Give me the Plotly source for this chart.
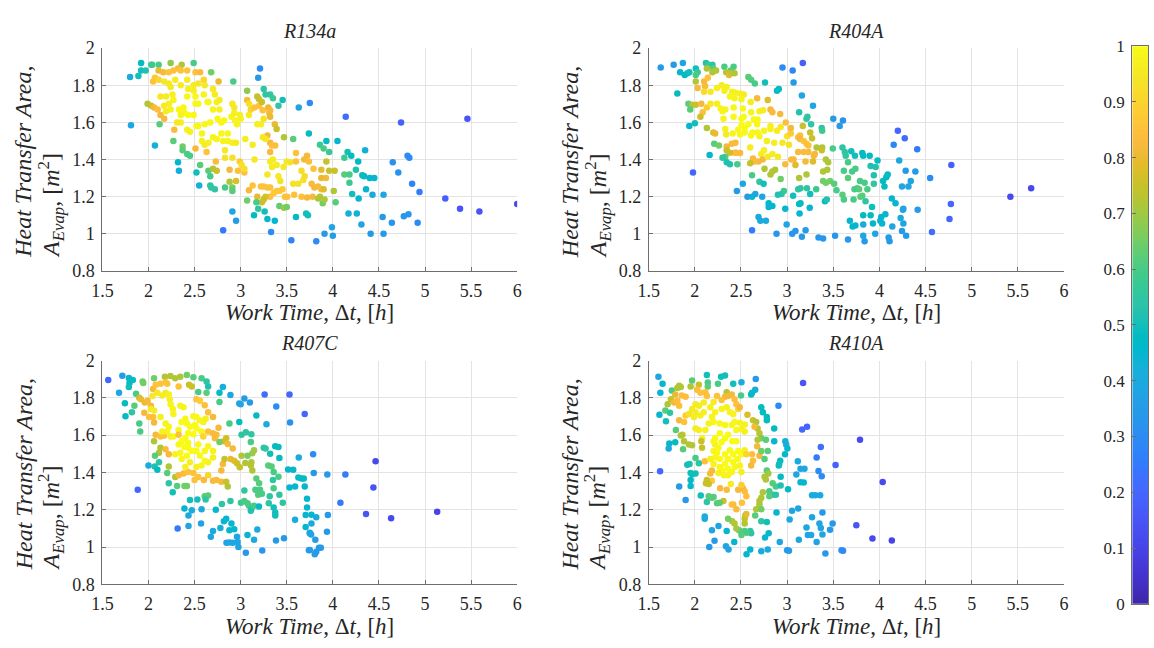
import plotly.graph_objects as go
import numpy as np

# ---------------- data: work time [h], evaporator area [m^2], colour score ----------------
r134a_dt = [
    1.80, 1.89, 1.92, 1.92, 1.97, 2.03, 2.04, 2.11, 2.24, 2.36,
    2.32, 2.49, 2.11, 2.16, 2.22, 2.27, 2.35, 2.42, 2.51, 2.56,
    2.68, 2.76, 2.92, 3.21, 3.19, 2.05, 2.07, 2.11, 2.17, 2.22,
    2.24, 2.29, 2.35, 2.42, 2.43, 2.49, 2.49, 2.54, 2.60, 2.61,
    2.70, 2.72, 2.65, 2.74, 2.77, 2.13, 2.19, 2.26, 2.27, 2.22,
    2.17, 2.19, 2.24, 2.33, 2.38, 2.39, 2.35, 2.43, 2.49, 2.51,
    2.54, 2.42, 2.51, 2.60, 2.64, 2.70, 2.77, 1.99, 2.03, 2.06,
    2.10, 2.13, 2.17, 2.12, 1.81, 2.28, 2.35, 2.31, 2.42, 2.45,
    2.52, 2.54, 2.61, 2.67, 2.75, 2.79, 2.82, 2.90, 2.93, 2.99,
    3.00, 2.96, 2.94, 2.91, 2.93, 2.58, 2.58, 2.61, 2.65, 2.70,
    2.74, 2.79, 2.86, 2.81, 2.86, 2.91, 2.95, 2.83, 2.83, 2.91,
    2.51, 2.63, 2.73, 2.27, 2.37, 2.37, 2.42, 2.45, 2.32, 2.33,
    2.56, 2.52, 2.55, 2.65, 2.67, 2.70, 2.74, 2.67, 2.68, 2.72,
    2.83, 2.88, 2.91, 2.91, 2.95, 2.88, 2.97, 3.04, 2.99, 3.01,
    3.04, 3.05, 3.13, 3.15, 3.22, 3.18, 3.09, 3.11, 3.15, 3.20,
    3.24, 3.25, 3.31, 3.07, 3.09, 3.18, 3.20, 3.23, 3.07, 3.25,
    3.27, 3.32, 3.35, 3.41, 3.455, 3.30, 3.32, 3.32, 3.37, 3.39,
    3.29, 3.32, 3.34, 3.375, 3.32, 3.24, 3.27, 3.32, 3.35, 3.39,
    3.34, 3.29, 3.41, 3.43, 3.50, 3.535, 3.465, 3.60, 3.57, 3.47,
    3.60, 3.57, 3.625, 3.66, 3.68, 3.695, 3.72, 3.69, 3.74, 3.66,
    3.58, 3.48, 3.505, 3.42, 3.455, 3.39, 3.36, 3.32, 3.27, 3.25,
    3.23, 3.18, 3.13, 3.22, 3.25, 3.29, 3.32, 3.09, 3.07, 3.17,
    3.19, 3.26, 3.145, 3.29, 3.37, 3.42, 3.47, 3.50, 3.60, 3.71,
    3.73, 3.72, 2.91, 2.95, 2.81, 3.33, 3.55, 2.07, 3.63, 3.75,
    3.74, 4.14, 4.74, 5.46, 3.86, 3.90, 3.93, 3.96, 4.05, 4.16,
    4.20, 4.125, 4.275, 4.35, 3.93, 3.875, 3.79, 3.925, 3.875, 3.96,
    4.02, 3.77, 3.80, 3.84, 3.875, 3.90, 3.78, 3.84, 3.86, 3.89,
    3.91, 4.01, 4.03, 4.125, 4.18, 4.18, 4.25, 4.32, 4.34, 4.40,
    4.45, 4.36, 4.21, 4.28, 4.43, 4.55, 4.65, 4.71, 4.81, 4.83,
    4.86, 4.94, 5.22, 5.38, 5.59, 6.00, 4.17, 4.26, 4.31, 4.41,
    4.55, 4.54, 4.64, 4.77, 4.82, 4.92, 3.99, 4.00, 3.91, 3.82,
]
r134a_area = [
    1.845, 1.85, 1.92, 1.88, 1.88, 1.91, 1.91, 1.91, 1.92, 1.91,
    1.89, 1.92, 1.88, 1.87, 1.87, 1.88, 1.88, 1.88, 1.87, 1.87,
    1.87, 1.82, 1.82, 1.89, 1.84, 1.82, 1.84, 1.83, 1.82, 1.81,
    1.79, 1.83, 1.80, 1.83, 1.78, 1.77, 1.80, 1.81, 1.83, 1.80,
    1.78, 1.75, 1.71, 1.71, 1.72, 1.74, 1.74, 1.75, 1.72, 1.70,
    1.69, 1.66, 1.67, 1.67, 1.68, 1.65, 1.64, 1.64, 1.64, 1.70,
    1.70, 1.74, 1.74, 1.75, 1.71, 1.67, 1.67, 1.70, 1.69, 1.68,
    1.67, 1.64, 1.62, 1.59, 1.585, 1.56, 1.60, 1.60, 1.56, 1.55,
    1.58, 1.58, 1.59, 1.60, 1.62, 1.60, 1.61, 1.63, 1.65, 1.64,
    1.62, 1.59, 1.61, 1.70, 1.68, 1.54, 1.50, 1.48, 1.49, 1.52,
    1.51, 1.54, 1.54, 1.50, 1.50, 1.49, 1.49, 1.45, 1.41, 1.41,
    1.46, 1.44, 1.39, 1.50, 1.47, 1.45, 1.43, 1.42, 1.385, 1.34,
    1.37, 1.33, 1.26, 1.34, 1.31, 1.35, 1.34, 1.26, 1.25, 1.24,
    1.25, 1.28, 1.25, 1.23, 1.285, 1.345, 1.34, 1.33, 1.39, 1.37,
    1.35, 1.51, 1.48, 1.40, 1.59, 1.59, 1.64, 1.67, 1.68, 1.69,
    1.665, 1.62, 1.65, 1.72, 1.70, 1.74, 1.725, 1.71, 1.77, 1.78,
    1.75, 1.75, 1.73, 1.69, 1.72, 1.68, 1.665, 1.63, 1.59, 1.565,
    1.53, 1.49, 1.475, 1.475, 1.44, 1.52, 1.51, 1.39, 1.40, 1.37,
    1.36, 1.32, 1.31, 1.285, 1.39, 1.385, 1.36, 1.435, 1.51, 1.52,
    1.39, 1.27, 1.27, 1.34, 1.29, 1.31, 1.42, 1.40, 1.39, 1.20,
    1.21, 1.20, 1.20, 1.23, 1.24, 1.23, 1.22, 1.20, 1.20, 1.185,
    1.17, 1.20, 1.26, 1.255, 1.255, 1.25, 1.25, 1.235, 1.18, 1.17,
    1.135, 1.12, 1.10, 1.08, 1.07, 1.15, 1.14, 1.145, 1.09, 1.11,
    1.10, 1.195, 1.12, 1.07, 1.02, 1.01, 0.965, 1.475, 1.68, 1.705,
    1.54, 1.63, 1.60, 1.62, 1.48, 1.46, 1.50, 1.44, 1.50, 1.44,
    1.42, 1.41, 1.39, 1.45, 1.39, 1.345, 1.35, 1.30, 1.30, 1.34,
    1.34, 1.27, 1.25, 1.255, 1.24, 1.24, 1.20, 1.19, 1.20, 1.165,
    1.185, 1.23, 1.17, 1.32, 1.32, 1.275, 1.345, 1.315, 1.31, 1.30,
    1.30, 1.24, 1.215, 1.19, 1.21, 1.21, 1.385, 1.33, 1.42, 1.41,
    1.27, 1.225, 1.19, 1.135, 1.12, 1.16, 1.11, 1.11, 1.05, 1.00,
    1.00, 1.09, 1.06, 1.095, 1.105, 1.06, 1.035, 0.99, 1.00, 0.96,
]
r134a_score = [
    0.40, 0.50, 0.48, 0.50, 0.52, 0.58, 0.58, 0.60, 0.68, 0.72,
    0.82, 0.60, 0.80, 0.82, 0.85, 0.85, 0.86, 0.86, 0.85, 0.83,
    0.65, 0.80, 0.60, 0.30, 0.35, 0.85, 0.87, 0.90, 0.95, 0.95,
    0.95, 0.96, 0.96, 0.96, 0.97, 0.97, 0.96, 0.95, 0.90, 0.95,
    0.95, 0.96, 0.98, 0.97, 0.96, 0.95, 0.96, 0.97, 0.98, 0.97,
    0.96, 0.96, 0.97, 0.99, 0.99, 0.99, 0.98, 1.00, 0.99, 0.99,
    0.99, 0.99, 0.99, 0.98, 0.99, 0.98, 0.97, 0.72, 0.75, 0.82,
    0.84, 0.82, 0.82, 0.62, 0.38, 0.83, 0.97, 0.95, 0.97, 0.97,
    0.99, 0.99, 0.99, 0.99, 0.99, 0.99, 0.99, 0.98, 0.97, 0.97,
    0.97, 0.98, 0.98, 0.95, 0.95, 0.98, 0.97, 0.96, 0.97, 0.98,
    0.98, 0.99, 0.99, 0.98, 0.98, 0.97, 0.96, 0.95, 0.94, 0.93,
    0.82, 0.85, 0.83, 0.62, 0.65, 0.62, 0.60, 0.60, 0.45, 0.42,
    0.62, 0.50, 0.42, 0.62, 0.60, 0.72, 0.75, 0.55, 0.55, 0.55,
    0.60, 0.72, 0.65, 0.62, 0.78, 0.82, 0.85, 0.85, 0.88, 0.93,
    0.93, 0.96, 0.96, 0.95, 0.97, 0.97, 0.96, 0.90, 0.85, 0.85,
    0.85, 0.94, 0.82, 0.83, 0.93, 0.74, 0.75, 0.75, 0.68, 0.55,
    0.55, 0.55, 0.58, 0.55, 0.50, 0.80, 0.82, 0.80, 0.80, 0.75,
    0.82, 0.82, 0.84, 0.84, 0.83, 0.95, 0.95, 0.96, 0.96, 0.96,
    0.96, 0.95, 0.95, 0.94, 0.95, 0.94, 0.95, 0.85, 0.62, 0.72,
    0.86, 0.93, 0.93, 0.92, 0.93, 0.92, 0.82, 0.82, 0.84, 0.85,
    0.85, 0.85, 0.85, 0.88, 0.87, 0.87, 0.87, 0.85, 0.78, 0.75,
    0.75, 0.80, 0.85, 0.85, 0.85, 0.85, 0.85, 0.82, 0.65, 0.60,
    0.55, 0.50, 0.48, 0.45, 0.45, 0.63, 0.70, 0.65, 0.48, 0.50,
    0.50, 0.82, 0.38, 0.35, 0.25, 0.30, 0.28, 0.42, 0.38, 0.30,
    0.48, 0.22, 0.18, 0.15, 0.58, 0.60, 0.48, 0.58, 0.45, 0.50,
    0.48, 0.58, 0.47, 0.43, 0.75, 0.80, 0.85, 0.82, 0.80, 0.75,
    0.75, 0.83, 0.82, 0.83, 0.83, 0.78, 0.82, 0.72, 0.72, 0.65,
    0.72, 0.72, 0.62, 0.62, 0.60, 0.58, 0.52, 0.48, 0.48, 0.45,
    0.45, 0.45, 0.50, 0.45, 0.40, 0.38, 0.32, 0.32, 0.30, 0.30,
    0.28, 0.25, 0.18, 0.15, 0.15, 0.12, 0.42, 0.42, 0.38, 0.35,
    0.35, 0.35, 0.33, 0.33, 0.33, 0.30, 0.38, 0.36, 0.35, 0.30,
]

r404a_dt = [
    1.63, 1.77, 1.87, 1.84, 1.89, 1.92, 1.94, 2.01, 2.03, 2.01,
    2.01, 2.12, 2.15, 2.19, 2.20, 2.13, 2.19, 2.23, 2.32, 2.42,
    2.39, 2.34, 2.37, 2.39, 2.43, 2.58, 2.61, 2.65, 2.76, 2.95,
    3.06, 3.17, 3.07, 2.89, 2.91, 1.81, 2.10, 2.14, 2.11, 2.03,
    2.10, 2.17, 2.24, 2.29, 2.345, 2.32, 2.405, 2.44, 2.49, 2.53,
    2.38, 2.43, 2.505, 2.605, 2.675, 2.79, 1.93, 1.97, 1.95, 2.01,
    2.07, 2.085, 2.06, 2.13, 2.17, 2.24, 2.28, 2.33, 2.30, 2.42,
    2.52, 2.31, 2.42, 2.505, 2.53, 2.61, 2.70, 2.74, 2.82, 2.84,
    2.925, 2.64, 2.68, 2.675, 2.58, 2.505, 2.54, 2.33, 2.34, 2.41,
    2.47, 2.49, 2.54, 2.61, 2.625, 2.68, 2.70, 2.75, 2.82, 2.82,
    2.89, 2.93, 2.78, 2.86, 2.95, 3.02, 3.00, 3.04, 2.985, 3.04,
    3.12, 3.14, 3.14, 3.17, 3.18, 3.21, 3.23, 3.27, 3.25, 3.12,
    3.18, 3.23, 3.30, 3.29, 3.20, 3.28, 3.07, 3.045, 3.09, 2.98,
    2.90, 2.84, 2.75, 2.72, 2.69, 2.735, 2.79, 2.63, 2.65, 2.60,
    2.60, 2.49, 2.45, 2.43, 2.44, 2.40, 2.345, 2.345, 2.38, 2.33,
    2.30, 2.345, 2.38, 2.46, 2.21, 2.26, 2.16, 2.13, 2.20, 2.22,
    1.94, 2.00, 1.98, 2.62, 2.70, 2.745, 2.755, 2.82, 2.84, 2.87,
    2.93, 3.13, 3.21, 3.12, 3.145, 3.215, 3.315, 3.25, 3.145, 3.13,
    3.135, 3.245, 3.065, 2.965, 2.94, 2.90, 2.62, 2.52, 2.455, 2.57,
    2.655, 2.73, 2.80, 2.80, 2.84, 2.98, 2.69, 2.71, 2.77, 2.995,
    2.62, 2.885, 3.055, 3.09, 3.20, 3.16, 3.34, 3.39, 3.52, 3.66,
    3.41, 3.43, 3.68, 3.71, 3.74, 3.16, 3.28, 3.13, 3.21, 3.22,
    3.26, 3.375, 3.38, 3.32, 3.38, 3.375, 3.42, 3.445, 3.39, 3.435,
    3.39, 3.42, 3.465, 3.51, 3.495, 3.50, 3.57, 3.605, 3.60, 3.625,
    3.635, 3.695, 3.735, 3.66, 3.615, 3.66, 3.74, 3.705, 3.535, 3.60,
    3.615, 3.72, 3.73, 3.76, 4.20, 4.275, 4.155, 4.41, 3.815, 3.825,
    3.895, 3.98, 4.215, 3.905, 3.96, 3.94, 4.09, 4.075, 4.04, 4.055,
    3.79, 3.84, 3.87, 3.94, 3.78, 3.795, 3.815, 3.85, 3.92, 4.285,
    4.39, 4.34, 4.315, 4.245, 4.55, 4.78, 4.135, 4.175, 4.26, 4.255,
    4.415, 4.775, 4.76, 4.57, 5.42, 5.645, 3.825, 3.905, 4.02, 4.01,
    4.065, 4.03, 3.93, 3.825, 4.23, 4.26, 4.14, 4.245, 4.29, 3.955,
    3.825, 3.84, 4.10, 4.11,
]
r404a_area = [
    1.895, 1.91, 1.92, 1.87, 1.855, 1.865, 1.87, 1.89, 1.87, 1.855,
    1.82, 1.92, 1.91, 1.91, 1.89, 1.89, 1.87, 1.88, 1.90, 1.90,
    1.88, 1.87, 1.855, 1.865, 1.865, 1.845, 1.83, 1.81, 1.815, 1.895,
    1.88, 1.92, 1.815, 1.77, 1.78, 1.755, 1.82, 1.84, 1.795, 1.785,
    1.765, 1.765, 1.785, 1.80, 1.79, 1.77, 1.765, 1.76, 1.755, 1.75,
    1.74, 1.73, 1.725, 1.71, 1.73, 1.72, 1.70, 1.695, 1.67, 1.695,
    1.70, 1.655, 1.63, 1.68, 1.70, 1.70, 1.675, 1.67, 1.66, 1.68,
    1.675, 1.62, 1.63, 1.62, 1.63, 1.655, 1.66, 1.665, 1.67, 1.655,
    1.645, 1.615, 1.615, 1.59, 1.59, 1.585, 1.57, 1.565, 1.535, 1.54,
    1.56, 1.535, 1.545, 1.53, 1.545, 1.545, 1.525, 1.555, 1.58, 1.565,
    1.555, 1.575, 1.50, 1.49, 1.49, 1.48, 1.525, 1.54, 1.60, 1.57,
    1.52, 1.53, 1.51, 1.58, 1.50, 1.485, 1.475, 1.515, 1.545, 1.44,
    1.44, 1.44, 1.43, 1.42, 1.39, 1.39, 1.40, 1.40, 1.37, 1.375,
    1.415, 1.43, 1.45, 1.43, 1.39, 1.40, 1.415, 1.405, 1.39, 1.38,
    1.465, 1.435, 1.437, 1.437, 1.49, 1.485, 1.47, 1.45, 1.437, 1.415,
    1.41, 1.385, 1.375, 1.375, 1.485, 1.475, 1.425, 1.57, 1.545, 1.54,
    1.58, 1.595, 1.33, 1.315, 1.28, 1.27, 1.35, 1.32, 1.335, 1.345,
    1.295, 1.30, 1.32, 1.24, 1.245, 1.245, 1.24, 1.215, 1.165, 1.16,
    1.11, 1.14, 1.205, 1.23, 1.215, 1.21, 1.20, 1.27, 1.23, 1.20,
    1.215, 1.20, 1.165, 1.145, 1.15, 1.135, 1.09, 1.07, 1.07, 1.05,
    1.02, 1.00, 1.00, 1.015, 1.02, 0.985, 0.98, 0.975, 0.99, 0.97,
    1.175, 1.185, 1.07, 1.04, 1.045, 1.745, 1.69, 1.655, 1.62, 1.63,
    1.59, 1.57, 1.555, 1.465, 1.465, 1.45, 1.40, 1.385, 1.335, 1.345,
    1.285, 1.275, 1.285, 1.27, 1.46, 1.62, 1.58, 1.61, 1.465, 1.44,
    1.42, 1.445, 1.42, 1.385, 1.34, 1.30, 1.35, 1.335, 1.235, 1.21,
    1.185, 1.185, 1.24, 1.245, 1.555, 1.515, 1.48, 1.455, 1.435, 1.42,
    1.42, 1.395, 1.395, 1.365, 1.36, 1.315, 1.32, 1.305, 1.285, 1.255,
    1.285, 1.275, 1.24, 1.27, 1.24, 1.20, 1.205, 1.175, 1.145, 1.34,
    1.335, 1.285, 1.255, 1.255, 1.30, 1.37, 1.19, 1.165, 1.135, 1.13,
    1.13, 1.16, 1.08, 1.01, 1.20, 1.245, 1.10, 1.10, 1.09, 1.07,
    1.105, 1.055, 1.055, 1.05, 1.085, 1.055, 1.04, 1.015, 0.99, 1.00,
    0.99, 0.96, 0.98, 0.96,
]
r404a_score = [
    0.35, 0.35, 0.38, 0.45, 0.48, 0.48, 0.50, 0.50, 0.58, 0.60,
    0.72, 0.52, 0.58, 0.55, 0.62, 0.72, 0.72, 0.72, 0.60, 0.60,
    0.62, 0.72, 0.80, 0.75, 0.72, 0.62, 0.62, 0.60, 0.50, 0.30,
    0.28, 0.18, 0.35, 0.48, 0.48, 0.48, 0.82, 0.85, 0.83, 0.82,
    0.92, 0.95, 0.96, 0.96, 0.97, 0.97, 0.97, 0.97, 0.97, 0.96,
    0.98, 0.98, 0.98, 0.96, 0.82, 0.78, 0.62, 0.72, 0.62, 0.75,
    0.82, 0.85, 0.76, 0.88, 0.95, 0.97, 0.98, 0.98, 0.98, 0.99,
    0.99, 0.98, 0.99, 1.00, 1.00, 0.98, 0.97, 0.96, 0.82, 0.83,
    0.82, 0.99, 0.99, 0.99, 1.00, 1.00, 1.00, 0.97, 0.96, 0.98,
    0.99, 0.99, 0.99, 0.99, 0.99, 0.99, 0.98, 0.98, 0.97, 0.97,
    0.96, 0.95, 0.96, 0.96, 0.95, 0.94, 0.94, 0.88, 0.84, 0.82,
    0.84, 0.84, 0.82, 0.75, 0.85, 0.85, 0.85, 0.75, 0.75, 0.83,
    0.83, 0.83, 0.82, 0.82, 0.82, 0.78, 0.83, 0.83, 0.78, 0.83,
    0.95, 0.96, 0.97, 0.96, 0.82, 0.82, 0.95, 0.83, 0.83, 0.75,
    0.96, 0.83, 0.83, 0.83, 0.83, 0.83, 0.82, 0.75, 0.76, 0.62,
    0.55, 0.52, 0.52, 0.60, 0.62, 0.65, 0.45, 0.72, 0.78, 0.80,
    0.45, 0.50, 0.20, 0.60, 0.55, 0.50, 0.72, 0.72, 0.72, 0.72,
    0.65, 0.72, 0.72, 0.55, 0.55, 0.55, 0.58, 0.50, 0.48, 0.48,
    0.45, 0.45, 0.50, 0.58, 0.55, 0.52, 0.48, 0.38, 0.35, 0.35,
    0.38, 0.38, 0.45, 0.45, 0.45, 0.45, 0.40, 0.40, 0.40, 0.38,
    0.25, 0.33, 0.33, 0.33, 0.35, 0.35, 0.33, 0.33, 0.33, 0.33,
    0.48, 0.52, 0.45, 0.45, 0.45, 0.38, 0.38, 0.52, 0.55, 0.55,
    0.55, 0.55, 0.58, 0.72, 0.72, 0.75, 0.72, 0.72, 0.72, 0.72,
    0.65, 0.65, 0.65, 0.62, 0.60, 0.35, 0.35, 0.32, 0.55, 0.55,
    0.55, 0.50, 0.50, 0.60, 0.60, 0.62, 0.60, 0.60, 0.60, 0.62,
    0.60, 0.60, 0.60, 0.60, 0.20, 0.22, 0.28, 0.25, 0.48, 0.48,
    0.48, 0.48, 0.38, 0.52, 0.52, 0.52, 0.48, 0.48, 0.48, 0.48,
    0.60, 0.60, 0.60, 0.55, 0.62, 0.62, 0.62, 0.55, 0.50, 0.35,
    0.35, 0.38, 0.38, 0.38, 0.30, 0.18, 0.45, 0.45, 0.38, 0.38,
    0.35, 0.20, 0.20, 0.22, 0.12, 0.12, 0.48, 0.48, 0.45, 0.45,
    0.45, 0.45, 0.45, 0.40, 0.40, 0.38, 0.38, 0.35, 0.35, 0.38,
    0.38, 0.35, 0.35, 0.35,
]

r407c_dt = [
    1.563, 1.716, 1.68, 1.787, 1.83, 1.794, 1.787, 1.744, 1.75, 1.82,
    1.865, 1.847, 1.90, 1.91, 1.943, 1.936, 2.06, 2.178, 2.238, 2.29,
    2.345, 2.416, 2.487, 2.576, 2.63, 2.647, 2.54, 2.63, 2.807, 2.77,
    2.889, 2.77, 1.90, 1.96, 1.99, 1.918, 2.025, 2.05, 2.078, 2.13,
    2.185, 2.203, 2.327, 2.44, 2.47, 1.954, 2.007, 2.05, 2.06, 2.06,
    2.078, 2.13, 2.167, 2.096, 2.043, 2.025, 2.06, 2.15, 2.185, 2.22,
    2.23, 2.24, 2.263, 2.27, 2.345, 2.38, 2.13, 2.185, 2.22, 2.15,
    2.203, 2.24, 2.27, 2.327, 2.36, 2.40, 2.416, 2.45, 2.487, 2.52,
    2.558, 2.594, 2.62, 2.505, 2.52, 2.576, 2.487, 2.43, 2.40, 2.36,
    2.327, 2.39, 2.43, 2.43, 2.47, 2.416, 2.36, 2.345, 2.29, 2.54,
    2.52, 2.558, 2.61, 2.647, 2.70, 2.61, 2.576, 2.52, 2.647, 2.70,
    2.647, 2.594, 2.647, 2.70, 2.737, 2.72, 2.76, 2.70, 2.647, 2.61,
    2.52, 2.558, 2.327, 2.13, 2.114, 2.07, 2.114, 2.067, 2.096, 2.00,
    2.185, 2.22, 2.22, 2.203, 2.29, 2.327, 2.38, 2.43, 2.487, 2.50,
    2.54, 2.60, 2.40, 2.45, 2.31, 2.39, 2.416, 2.22, 2.263, 2.70,
    2.737, 2.79, 2.843, 2.86, 2.79, 2.807, 2.825, 2.89, 2.93, 2.96,
    2.914, 2.843, 2.818, 2.77, 2.86, 2.878, 2.985, 3.01, 3.056, 3.116,
    3.11, 3.145, 3.127, 3.074, 3.01, 2.99, 3.05, 3.11, 3.127, 3.116,
    3.17, 3.20, 3.21, 3.16, 3.19, 3.23, 3.315, 3.04, 3.003, 3.04,
    3.074, 3.09, 3.116, 3.11, 3.145, 3.198, 2.889, 2.796, 2.647, 2.61,
    2.62, 2.53, 2.45, 2.39, 2.434, 2.47, 2.576, 2.73, 2.818, 2.843,
    2.90, 2.878, 2.93, 2.78, 2.70, 2.676, 2.57, 2.434, 2.316, 2.846,
    2.878, 2.914, 2.96, 2.967, 2.975, 3.056, 3.074, 3.145, 3.18, 3.234,
    3.383, 3.47, 1.883, 3.17, 3.28, 2.985, 3.00, 3.04, 3.10, 3.26,
    3.386, 3.53, 3.536, 3.695, 3.25, 3.27, 3.32, 3.375, 3.41, 3.42,
    3.30, 3.335, 3.358, 3.41, 3.35, 3.358, 3.42, 3.457, 3.305, 3.358,
    3.375, 3.375, 3.59, 3.515, 3.57, 3.63, 3.626, 3.66, 3.685, 3.695,
    3.59, 3.72, 3.72, 3.705, 3.705, 3.75, 3.74, 3.53, 3.786, 4.464,
    3.793, 3.94, 4.136, 4.44, 3.768, 3.82, 3.946, 4.082, 4.36, 4.632,
    5.132, 3.768, 3.75, 3.764, 3.81, 3.936, 3.75, 3.804, 3.82, 3.85,
    3.87,
]
r407c_area = [
    1.896, 1.919, 1.827, 1.906, 1.896, 1.879, 1.858, 1.771, 1.702, 1.723,
    1.822, 1.758, 1.662, 1.619, 1.879, 1.888, 1.905, 1.913, 1.917, 1.905,
    1.913, 1.922, 1.91, 1.905, 1.888, 1.861, 1.832, 1.827, 1.858, 1.827,
    1.815, 1.778, 1.80, 1.775, 1.784, 1.792, 1.758, 1.848, 1.87, 1.875,
    1.884, 1.875, 1.861, 1.87, 1.861, 1.72, 1.697, 1.697, 1.668, 1.567,
    1.602, 1.593, 1.597, 1.827, 1.81, 1.74, 1.732, 1.813, 1.827, 1.818,
    1.792, 1.766, 1.74, 1.714, 1.758, 1.749, 1.697, 1.662, 1.645, 1.619,
    1.619, 1.593, 1.593, 1.628, 1.671, 1.688, 1.662, 1.645, 1.702, 1.697,
    1.68, 1.671, 1.688, 1.654, 1.636, 1.619, 1.605, 1.61, 1.584, 1.567,
    1.55, 1.536, 1.558, 1.532, 1.515, 1.489, 1.472, 1.506, 1.498, 1.55,
    1.515, 1.489, 1.515, 1.541, 1.515, 1.463, 1.437, 1.429, 1.455, 1.48,
    1.385, 1.593, 1.619, 1.61, 1.602, 1.584, 1.64, 1.697, 1.723, 1.761,
    1.792, 1.784, 1.602, 1.532, 1.506, 1.489, 1.455, 1.432, 1.415, 1.437,
    1.524, 1.498, 1.432, 1.397, 1.376, 1.385, 1.394, 1.403, 1.397, 1.359,
    1.376, 1.359, 1.429, 1.455, 1.328, 1.328, 1.328, 1.342, 1.294, 1.356,
    1.359, 1.35, 1.35, 1.325, 1.411, 1.446, 1.472, 1.472, 1.463, 1.45,
    1.529, 1.584, 1.567, 1.564, 1.553, 1.662, 1.671, 1.602, 1.616, 1.605,
    1.564, 1.519, 1.503, 1.489, 1.489, 1.428, 1.451, 1.437, 1.411, 1.455,
    1.368, 1.342, 1.307, 1.307, 1.281, 1.286, 1.273, 1.304, 1.238, 1.247,
    1.235, 1.221, 1.204, 1.195, 1.221, 1.217, 1.247, 1.231, 1.276, 1.273,
    1.255, 1.255, 1.252, 1.207, 1.169, 1.198, 1.203, 1.20, 1.138, 1.152,
    1.126, 1.09, 1.096, 1.103, 1.086, 1.056, 1.127, 1.113, 1.10, 1.023,
    1.025, 1.023, 1.056, 1.027, 1.00, 0.97, 1.065, 1.039, 1.094, 0.982,
    1.035, 1.048, 1.307, 1.706, 1.659, 1.77, 1.766, 1.796, 1.775, 1.818,
    1.754, 1.818, 1.668, 1.714, 1.532, 1.529, 1.501, 1.541, 1.536, 1.477,
    1.437, 1.432, 1.403, 1.377, 1.359, 1.316, 1.281, 1.238, 1.235, 1.212,
    1.186, 1.169, 1.146, 1.416, 1.415, 1.48, 1.373, 1.368, 1.368, 1.325,
    1.325, 1.259, 1.212, 1.172, 1.108, 1.074, 0.983, 1.32, 1.498, 1.46,
    1.397, 1.389, 1.389, 1.32, 1.174, 1.16, 1.172, 1.238, 1.177, 1.155,
    1.19, 1.126, 1.077, 1.068, 1.039, 1.082, 0.984, 0.961, 0.975, 0.996,
    0.996,
]
r407c_score = [
    0.20, 0.35, 0.38, 0.45, 0.48, 0.48, 0.50, 0.48, 0.48, 0.55,
    0.60, 0.62, 0.60, 0.60, 0.65, 0.65, 0.65, 0.72, 0.72, 0.72,
    0.72, 0.65, 0.62, 0.60, 0.55, 0.52, 0.60, 0.62, 0.42, 0.48,
    0.38, 0.60, 0.75, 0.80, 0.82, 0.80, 0.82, 0.82, 0.85, 0.85,
    0.86, 0.86, 0.85, 0.75, 0.75, 0.82, 0.84, 0.84, 0.82, 0.72,
    0.82, 0.85, 0.85, 0.95, 0.95, 0.95, 0.96, 0.96, 0.96, 0.97,
    0.97, 0.98, 0.98, 0.98, 0.98, 0.98, 0.97, 0.98, 0.98, 0.97,
    0.98, 0.98, 0.99, 0.99, 1.00, 0.99, 1.00, 1.00, 0.99, 0.99,
    0.99, 0.98, 0.97, 1.00, 1.00, 0.99, 1.00, 1.00, 1.00, 1.00,
    0.99, 1.00, 1.00, 1.00, 1.00, 1.00, 0.99, 0.99, 0.98, 1.00,
    1.00, 1.00, 0.99, 0.99, 0.98, 0.99, 0.98, 0.97, 0.98, 0.97,
    0.90, 0.90, 0.85, 0.83, 0.83, 0.83, 0.82, 0.82, 0.84, 0.84,
    0.85, 0.88, 0.85, 0.72, 0.72, 0.62, 0.55, 0.52, 0.48, 0.42,
    0.83, 0.82, 0.72, 0.62, 0.72, 0.82, 0.83, 0.85, 0.85, 0.85,
    0.85, 0.83, 0.97, 0.97, 0.62, 0.65, 0.65, 0.55, 0.50, 0.83,
    0.83, 0.82, 0.75, 0.72, 0.82, 0.82, 0.75, 0.80, 0.78, 0.76,
    0.82, 0.76, 0.76, 0.65, 0.82, 0.60, 0.48, 0.55, 0.55, 0.55,
    0.60, 0.70, 0.70, 0.65, 0.72, 0.75, 0.72, 0.72, 0.72, 0.72,
    0.62, 0.62, 0.60, 0.60, 0.62, 0.60, 0.55, 0.55, 0.58, 0.60,
    0.60, 0.60, 0.55, 0.52, 0.60, 0.48, 0.55, 0.55, 0.62, 0.62,
    0.55, 0.50, 0.50, 0.45, 0.40, 0.40, 0.40, 0.45, 0.45, 0.45,
    0.45, 0.45, 0.45, 0.42, 0.40, 0.38, 0.38, 0.38, 0.25, 0.38,
    0.38, 0.38, 0.38, 0.38, 0.38, 0.33, 0.45, 0.40, 0.40, 0.33,
    0.35, 0.35, 0.20, 0.48, 0.40, 0.38, 0.38, 0.35, 0.35, 0.22,
    0.30, 0.20, 0.32, 0.20, 0.55, 0.55, 0.50, 0.48, 0.48, 0.48,
    0.62, 0.62, 0.60, 0.60, 0.55, 0.60, 0.55, 0.55, 0.55, 0.50,
    0.50, 0.50, 0.40, 0.45, 0.45, 0.40, 0.48, 0.48, 0.48, 0.45,
    0.45, 0.45, 0.45, 0.45, 0.45, 0.40, 0.35, 0.45, 0.30, 0.12,
    0.35, 0.35, 0.25, 0.15, 0.45, 0.40, 0.35, 0.25, 0.15, 0.12,
    0.10, 0.40, 0.38, 0.38, 0.35, 0.35, 0.35, 0.35, 0.35, 0.35,
    0.35,
]

r410a_dt = [
    1.605, 1.65, 1.626, 1.616, 1.687, 1.623, 1.723, 1.716, 1.787, 1.83,
    1.90, 1.75, 1.81, 1.83, 1.847, 1.787, 1.74, 1.705, 1.68, 1.73,
    1.776, 1.81, 1.83, 1.858, 1.90, 1.794, 1.83, 1.865, 1.883, 1.90,
    1.872, 1.954, 1.97, 2.043, 2.025, 2.06, 2.13, 2.14, 2.14, 2.114,
    2.13, 2.096, 2.043, 2.007, 1.97, 1.936, 2.007, 1.99, 2.06, 2.096,
    2.167, 2.203, 2.24, 2.25, 2.284, 2.327, 2.416, 2.345, 2.327, 2.29,
    2.36, 2.40, 2.50, 2.505, 2.66, 2.654, 2.61, 2.62, 2.72, 2.737,
    2.78, 2.78, 2.86, 2.906, 3.173, 3.163, 3.216, 3.365, 3.525, 3.32,
    3.34, 3.375, 2.185, 2.22, 2.29, 2.345, 2.38, 2.416, 2.43, 2.40,
    2.327, 2.27, 2.203, 2.15, 2.114, 2.043, 2.007, 2.078, 2.22, 2.27,
    2.327, 2.36, 2.45, 2.505, 2.54, 2.487, 2.54, 2.47, 2.45, 2.43,
    2.487, 2.57, 2.63, 2.665, 2.68, 2.70, 2.72, 2.77, 2.68, 2.647,
    2.675, 2.62, 2.63, 2.61, 2.70, 2.72, 2.755, 2.79, 2.78, 2.755,
    2.77, 2.796, 2.843, 2.878, 2.93, 2.93, 2.91, 2.925, 2.914, 2.86,
    2.98, 2.99, 3.003, 2.977, 3.01, 2.878, 2.843, 2.807, 2.807, 2.737,
    2.72, 2.70, 2.70, 2.665, 2.72, 2.654, 2.72, 2.78, 2.76, 2.80,
    2.79, 2.72, 2.60, 2.56, 2.61, 2.60, 2.56, 2.54, 2.505, 2.48,
    2.45, 2.43, 2.405, 2.36, 2.54, 2.547, 2.54, 2.558, 2.51, 2.45,
    2.416, 2.40, 2.31, 2.27, 2.24, 2.15, 2.185, 2.203, 2.13, 2.064,
    2.107, 2.107, 2.185, 2.256, 2.345, 2.213, 2.156, 2.337, 2.365, 2.427,
    2.274, 2.345, 2.47, 2.52, 2.54, 2.558, 2.505, 2.39, 2.185, 2.13,
    2.12, 2.15, 2.107, 2.185, 2.167, 2.043, 2.007, 1.943, 1.918, 1.954,
    1.97, 1.954, 1.954, 2.007, 2.07, 2.078, 1.936, 1.97, 1.847, 1.883,
    2.22, 2.256, 2.24, 2.203, 2.27, 2.327, 2.38, 2.416, 2.47, 2.505,
    2.54, 2.558, 2.46, 2.416, 2.36, 2.327, 2.27, 2.30, 2.36, 2.40,
    2.434, 2.487, 2.505, 2.36, 2.316, 2.256, 2.203, 2.22, 2.167, 2.203,
    2.29, 2.45, 2.405, 3.79, 4.036, 3.75, 3.925, 4.135, 3.116, 3.145,
    3.188, 3.10, 3.145, 3.18, 3.27, 3.305, 3.358, 3.383, 3.12, 3.053,
    3.027, 3.27, 3.35, 3.365, 3.493, 3.465, 3.21, 3.225, 3.26, 3.383,
    3.32, 3.415, 3.59, 3.606, 3.00, 3.02, 2.92, 3.127, 2.885,
]
r410a_area = [
    1.913, 1.875, 1.827, 1.71, 1.674, 1.406, 1.555, 1.529, 1.562, 1.325,
    1.252, 1.84, 1.853, 1.865, 1.858, 1.818, 1.792, 1.766, 1.732, 1.72,
    1.775, 1.784, 1.758, 1.813, 1.806, 1.628, 1.68, 1.602, 1.671, 1.706,
    1.524, 1.861, 1.893, 1.87, 1.844, 1.827, 1.922, 1.882, 1.861, 1.83,
    1.81, 1.775, 1.758, 1.766, 1.74, 1.714, 1.723, 1.697, 1.706, 1.723,
    1.749, 1.778, 1.81, 1.875, 1.913, 1.92, 1.875, 1.83, 1.806, 1.789,
    1.81, 1.818, 1.813, 1.884, 1.901, 1.844, 1.818, 1.827, 1.749, 1.723,
    1.697, 1.68, 1.636, 1.758, 1.879, 1.631, 1.645, 1.536, 1.44, 1.48,
    1.408, 1.38, 1.697, 1.723, 1.74, 1.749, 1.723, 1.714, 1.671, 1.654,
    1.654, 1.662, 1.671, 1.662, 1.628, 1.628, 1.636, 1.584, 1.584, 1.61,
    1.584, 1.602, 1.628, 1.633, 1.619, 1.667, 1.657, 1.74, 1.766, 1.792,
    1.749, 1.709, 1.68, 1.671, 1.636, 1.61, 1.584, 1.576, 1.576, 1.645,
    1.541, 1.498, 1.463, 1.437, 1.489, 1.515, 1.472, 1.515, 1.411, 1.377,
    1.363, 1.394, 1.342, 1.325, 1.33, 1.377, 1.437, 1.463, 1.446, 1.567,
    1.567, 1.55, 1.529, 1.498, 1.31, 1.281, 1.281, 1.299, 1.273, 1.294,
    1.264, 1.247, 1.229, 1.203, 1.203, 1.169, 1.139, 1.134, 1.051, 1.074,
    0.987, 0.978, 0.987, 0.961, 1.074, 1.086, 1.077, 1.086, 1.065, 1.09,
    1.10, 1.126, 1.138, 1.152, 1.126, 1.169, 1.152, 1.177, 1.238, 1.203,
    1.229, 1.229, 1.247, 1.238, 1.235, 1.273, 1.264, 1.269, 1.242, 1.276,
    1.152, 1.164, 1.09, 1.113, 1.086, 1.034, 1.001, 1.004, 0.987, 1.027,
    1.316, 1.307, 1.307, 1.316, 1.299, 1.273, 1.333, 1.338, 1.356, 1.359,
    1.342, 1.338, 1.46, 1.411, 1.394, 1.449, 1.477, 1.446, 1.442, 1.397,
    1.39, 1.359, 1.328, 1.394, 1.567, 1.532, 1.55, 1.546, 1.598, 1.567,
    1.55, 1.532, 1.506, 1.515, 1.472, 1.498, 1.519, 1.498, 1.515, 1.498,
    1.519, 1.498, 1.472, 1.455, 1.472, 1.446, 1.429, 1.411, 1.42, 1.403,
    1.429, 1.437, 1.403, 1.385, 1.385, 1.397, 1.446, 1.48, 1.472, 1.567,
    1.564, 1.567, 1.567, 1.576, 1.349, 1.117, 1.046, 1.036, 1.46, 1.42,
    1.42, 1.389, 1.347, 1.346, 1.278, 1.278, 1.278, 1.186, 1.207, 1.195,
    1.148, 1.16, 1.126, 1.103, 1.126, 1.093, 1.105, 1.065, 1.065, 1.068,
    1.027, 0.966, 0.983, 0.981, 0.983, 0.981, 1.027, 1.039, 1.186,
]
r410a_score = [
    0.38, 0.45, 0.45, 0.45, 0.50, 0.20, 0.45, 0.40, 0.48, 0.35,
    0.33, 0.60, 0.72, 0.72, 0.72, 0.80, 0.75, 0.72, 0.62, 0.55,
    0.82, 0.84, 0.84, 0.84, 0.84, 0.62, 0.82, 0.75, 0.85, 0.88,
    0.62, 0.72, 0.62, 0.75, 0.84, 0.85, 0.50, 0.60, 0.62, 0.85,
    0.85, 0.96, 0.96, 0.96, 0.95, 0.94, 0.96, 0.96, 0.97, 0.97,
    0.97, 0.96, 0.85, 0.60, 0.50, 0.50, 0.50, 0.72, 0.82, 0.85,
    0.82, 0.82, 0.60, 0.40, 0.35, 0.40, 0.48, 0.48, 0.48, 0.48,
    0.48, 0.48, 0.48, 0.30, 0.15, 0.20, 0.20, 0.22, 0.18, 0.25,
    0.30, 0.30, 0.98, 0.98, 0.98, 0.97, 0.98, 0.98, 0.99, 0.99,
    0.99, 0.99, 0.99, 0.98, 0.98, 0.97, 0.96, 0.97, 1.00, 1.00,
    1.00, 1.00, 0.99, 0.98, 0.97, 0.98, 0.97, 0.90, 0.85, 0.84,
    0.82, 0.78, 0.75, 0.72, 0.72, 0.74, 0.65, 0.62, 0.72, 0.82,
    0.82, 0.84, 0.84, 0.82, 0.82, 0.65, 0.62, 0.62, 0.62, 0.72,
    0.72, 0.70, 0.62, 0.60, 0.52, 0.48, 0.48, 0.48, 0.50, 0.45,
    0.42, 0.42, 0.45, 0.45, 0.48, 0.55, 0.55, 0.60, 0.62, 0.72,
    0.72, 0.72, 0.72, 0.72, 0.65, 0.62, 0.55, 0.50, 0.45, 0.45,
    0.40, 0.40, 0.45, 0.45, 0.55, 0.55, 0.60, 0.60, 0.62, 0.62,
    0.70, 0.72, 0.72, 0.65, 0.72, 0.72, 0.74, 0.80, 0.85, 0.83,
    0.83, 0.85, 0.75, 0.62, 0.62, 0.62, 0.62, 0.62, 0.55, 0.50,
    0.40, 0.42, 0.38, 0.38, 0.45, 0.35, 0.35, 0.38, 0.38, 0.45,
    0.82, 0.83, 0.82, 0.82, 0.83, 0.84, 0.88, 0.96, 0.88, 0.75,
    0.75, 0.75, 0.84, 0.82, 0.82, 0.55, 0.60, 0.52, 0.50, 0.50,
    0.50, 0.48, 0.45, 0.50, 0.75, 0.75, 0.72, 0.72, 0.72, 0.72,
    0.98, 0.99, 1.00, 0.99, 1.00, 1.00, 1.00, 1.00, 1.00, 1.00,
    0.97, 0.90, 1.00, 1.00, 1.00, 1.00, 0.99, 0.99, 1.00, 0.99,
    0.99, 0.98, 0.97, 0.98, 0.98, 0.97, 0.98, 0.99, 0.97, 0.99,
    1.00, 1.00, 1.00, 0.12, 0.12, 0.15, 0.12, 0.10, 0.40, 0.38,
    0.38, 0.38, 0.45, 0.45, 0.40, 0.40, 0.40, 0.35, 0.38, 0.38,
    0.40, 0.38, 0.38, 0.38, 0.35, 0.35, 0.38, 0.38, 0.38, 0.38,
    0.38, 0.33, 0.30, 0.30, 0.35, 0.35, 0.38, 0.38, 0.45,
]

refrigerants = ["R134a", "R404A", "R407C", "R410A"]
x_ticks = [1.5, 2, 2.5, 3, 3.5, 4, 4.5, 5, 5.5, 6]
y_ticks = [0.8, 1, 1.2, 1.4, 1.6, 1.8, 2]
cbar_ticks = [0, 0.1, 0.2, 0.3, 0.4, 0.5, 0.6, 0.7, 0.8, 0.9, 1]

# ---------------- parula colour map (64 entries) ----------------
PARULA = [
    (0.2422, 0.1504, 0.6603), (0.2504, 0.1650, 0.7076), (0.2578, 0.1818, 0.7511), (0.2647, 0.1978, 0.7952),
    (0.2706, 0.2147, 0.8364), (0.2751, 0.2342, 0.8710), (0.2783, 0.2559, 0.8991), (0.2803, 0.2782, 0.9221),
    (0.2813, 0.3006, 0.9414), (0.2810, 0.3228, 0.9579), (0.2795, 0.3447, 0.9717), (0.2760, 0.3667, 0.9829),
    (0.2699, 0.3892, 0.9906), (0.2602, 0.4123, 0.9952), (0.2440, 0.4358, 0.9988), (0.2206, 0.4603, 0.9973),
    (0.1963, 0.4847, 0.9892), (0.1834, 0.5074, 0.9798), (0.1786, 0.5289, 0.9682), (0.1764, 0.5499, 0.9520),
    (0.1687, 0.5703, 0.9359), (0.1540, 0.5902, 0.9218), (0.1460, 0.6091, 0.9079), (0.1380, 0.6276, 0.8973),
    (0.1248, 0.6459, 0.8883), (0.1113, 0.6635, 0.8763), (0.0952, 0.6798, 0.8598), (0.0689, 0.6948, 0.8394),
    (0.0297, 0.7082, 0.8163), (0.0036, 0.7203, 0.7917), (0.0067, 0.7312, 0.7660), (0.0433, 0.7411, 0.7394),
    (0.0964, 0.7500, 0.7120), (0.1408, 0.7584, 0.6842), (0.1717, 0.7670, 0.6554), (0.1938, 0.7758, 0.6251),
    (0.2161, 0.7843, 0.5923), (0.2470, 0.7918, 0.5567), (0.2906, 0.7973, 0.5188), (0.3406, 0.8008, 0.4789),
    (0.3909, 0.8029, 0.4354), (0.4456, 0.8024, 0.3909), (0.5044, 0.7993, 0.3480), (0.5616, 0.7942, 0.3045),
    (0.6174, 0.7876, 0.2612), (0.6720, 0.7793, 0.2227), (0.7242, 0.7698, 0.1910), (0.7738, 0.7598, 0.1646),
    (0.8203, 0.7498, 0.1535), (0.8634, 0.7406, 0.1596), (0.9035, 0.7330, 0.1774), (0.9393, 0.7288, 0.2100),
    (0.9728, 0.7298, 0.2394), (0.9956, 0.7434, 0.2371), (0.9970, 0.7659, 0.2199), (0.9952, 0.7893, 0.2028),
    (0.9892, 0.8136, 0.1885), (0.9786, 0.8386, 0.1766), (0.9676, 0.8639, 0.1643), (0.9610, 0.8890, 0.1537),
    (0.9597, 0.9135, 0.1423), (0.9628, 0.9373, 0.1265), (0.9691, 0.9606, 0.1064), (0.9769, 0.9839, 0.0805),
]
parula = [[i / (len(PARULA) - 1), "rgb(%d,%d,%d)" % tuple(round(255 * v) for v in rgb)]
          for i, rgb in enumerate(PARULA)]

# ---------------- page geometry (pixels) ----------------
W, H = 1154, 648
SERIF = "Liberation Serif, Times New Roman, serif"
TXT = "#262626"
AX = "#6e6e6e"
GRID = "#e3e3e3"

def px_x(p):
    return p / W

def px_y(p):
    return 1 - p / H

cols = [(92.7, 513.3), (646.7, 1067.7)]
rows = [(39.3, 269.3), (361.7, 592.7)]

series = [
    (r134a_dt, r134a_area, r134a_score),
    (r404a_dt, r404a_area, r404a_score),
    (r407c_dt, r407c_area, r407c_score),
    (r410a_dt, r410a_area, r410a_score),
]

fig = go.Figure()
layout = dict(
    width=W, height=H, margin=dict(l=0, r=0, t=0, b=0),
    paper_bgcolor="white", plot_bgcolor="white", showlegend=False,
    font=dict(family=SERIF, color=TXT),
)
annotations = []

for i, (name, (xs, ys, cs)) in enumerate(zip(refrigerants, series)):
    n = i + 1
    cx = cols[i % 2]
    ry = rows[i // 2]
    fig.add_trace(go.Scatter(
        x=xs, y=ys, mode="markers",
        marker=dict(size=6.5, color=cs, colorscale=parula, cmin=0, cmax=1,
                    showscale=False, line=dict(width=0)),
        xaxis="x%d" % n, yaxis="y%d" % n, hoverinfo="x+y",
    ))
    common = dict(showgrid=True, gridcolor=GRID, gridwidth=1, zeroline=False,
                  showline=True, linecolor=AX, linewidth=1, ticks="inside",
                  ticklen=4, tickcolor=AX, tickfont=dict(family=SERIF, size=18, color=TXT))
    layout["xaxis%d" % n] = dict(common, domain=[px_x(cx[0]), px_x(cx[1])], range=[1.5, 6],
                                 tickvals=x_ticks, anchor="y%d" % n, ticklabelstandoff=3)
    layout["yaxis%d" % n] = dict(common, domain=[px_y(ry[1]), px_y(ry[0])], range=[0.8, 2],
                                 tickvals=y_ticks, anchor="x%d" % n, ticklabelstandoff=3)
    xc = (cx[0] + cx[1]) / 2
    # panel title
    annotations.append(dict(text="<i>%s</i>" % name, x=px_x(xc), y=px_y(ry[0] - 18),
                            xref="paper", yref="paper", showarrow=False,
                            xanchor="center", yanchor="middle",
                            font=dict(family=SERIF, size=20, color=TXT)))
    # x-axis title
    annotations.append(dict(text="<i>Work Time</i>, Δ<i>t</i>, [<i>h</i>]",
                            x=px_x(xc), y=px_y(ry[1] + 43), xref="paper", yref="paper",
                            showarrow=False, xanchor="center", yanchor="middle",
                            font=dict(family=SERIF, size=23, color=TXT)))
    # y-axis title, two lines sharing the same lower end
    annotations.append(dict(text="<i>Heat Transfer Area</i>,",
                            x=px_x(cx[0] - 80), y=px_y(ry[0] + 219), xref="paper", yref="paper",
                            showarrow=False, xanchor="center", yanchor="bottom",
                            textangle=-90, font=dict(family=SERIF, size=24, color=TXT)))
    annotations.append(dict(text="<i>A<sub>Evap</sub></i>, [<i>m</i><sup>2</sup>]",
                            x=px_x(cx[0] - 52), y=px_y(ry[0] + 219), xref="paper", yref="paper",
                            showarrow=False, xanchor="center", yanchor="bottom",
                            textangle=-90, font=dict(family=SERIF, size=24, color=TXT)))

# ---------------- colour bar drawn as a one-column heatmap ----------------
levels = np.linspace(0, 1, 256)
fig.add_trace(go.Heatmap(
    x=[0], y=levels, z=[[v] for v in levels], colorscale=parula, zmin=0, zmax=1,
    showscale=False, xaxis="x5", yaxis="y5", hoverinfo="skip",
))
layout["xaxis5"] = dict(domain=[px_x(1137), px_x(1153)], range=[-0.5, 0.5], anchor="y5",
                        showticklabels=False, ticks="", showgrid=False, zeroline=False,
                        showline=True, mirror=True, linecolor=AX, linewidth=1)
layout["yaxis5"] = dict(domain=[px_y(612.7), px_y(37.3)], range=[0, 1], anchor="x5",
                        side="left", tickvals=cbar_ticks, ticks="inside", ticklen=4,
                        tickcolor=AX, showgrid=False, zeroline=False,
                        showline=True, mirror=True, linecolor=AX, linewidth=1,
                        ticklabelstandoff=3,
                        tickfont=dict(family=SERIF, size=17, color=TXT))

layout["annotations"] = annotations
fig.update_layout(**layout)
fig.write_html("out.html")
